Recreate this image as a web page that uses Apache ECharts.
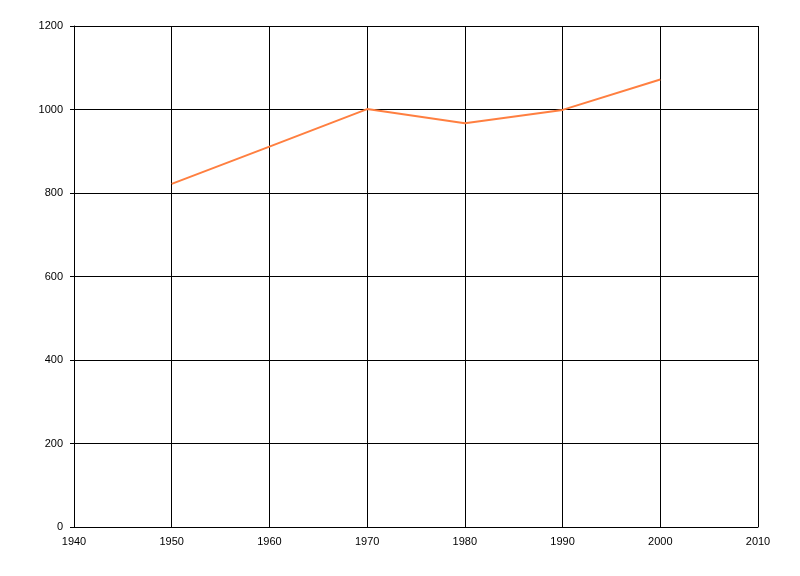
<!DOCTYPE html>
<html>
<head>
<meta charset="utf-8">
<script src="https://cdn.jsdelivr.net/npm/echarts@6/dist/echarts.min.js"></script>
<style>
html, body { margin: 0; padding: 0; background: #fff; }
#main { width: 800px; height: 576px; }
</style>
</head>
<body>
<div id="main"></div>
<script>
var years = [1950, 1960, 1970, 1980, 1990, 2000];
var values = [822, 911, 1001, 967, 999, 1072];

var points = [];
for (var i = 0; i < years.length; i++) {
	points.push([years[i], values[i]]);
}

var myChart = echarts.init(document.getElementById('main'));
var labelStyle = {
	color : '#000',
	fontSize : 11,
	fontFamily : 'Liberation Sans, Arial, sans-serif',
	formatter : function(v) { return String(v); }
};
var option = {
	animation : false,
	backgroundColor : '#fff',
	grid : {
		left : 74,
		right : 42,
		top : 26,
		bottom : 49,
		containLabel : false
	},
	xAxis : {
		type : 'value',
		min : 1940,
		max : 2010,
		interval : 10,
		axisLine : { lineStyle : { color : '#000', width : 1 } },
		axisTick : { show : false },
		axisLabel : Object.assign({ margin : 9 }, labelStyle),
		splitLine : { show : true, lineStyle : { color : '#000', width : 1 } }
	},
	yAxis : {
		type : 'value',
		min : 0,
		max : 1200,
		interval : 200,
		axisLine : { show : true, lineStyle : { color : '#000', width : 1 } },
		axisTick : { show : true, length : 4, lineStyle : { color : '#000' } },
		axisLabel : Object.assign({ margin : 11 }, labelStyle),
		splitLine : { show : true, lineStyle : { color : '#000', width : 1 } }
	},
	series : [ {
		type : 'line',
		data : points,
		symbol : 'none',
		lineStyle : { color : '#FF7F40', width : 2 },
		itemStyle : { color : '#FF7F40' }
	} ]
};
myChart.setOption(option);
</script>
</body>
</html>
